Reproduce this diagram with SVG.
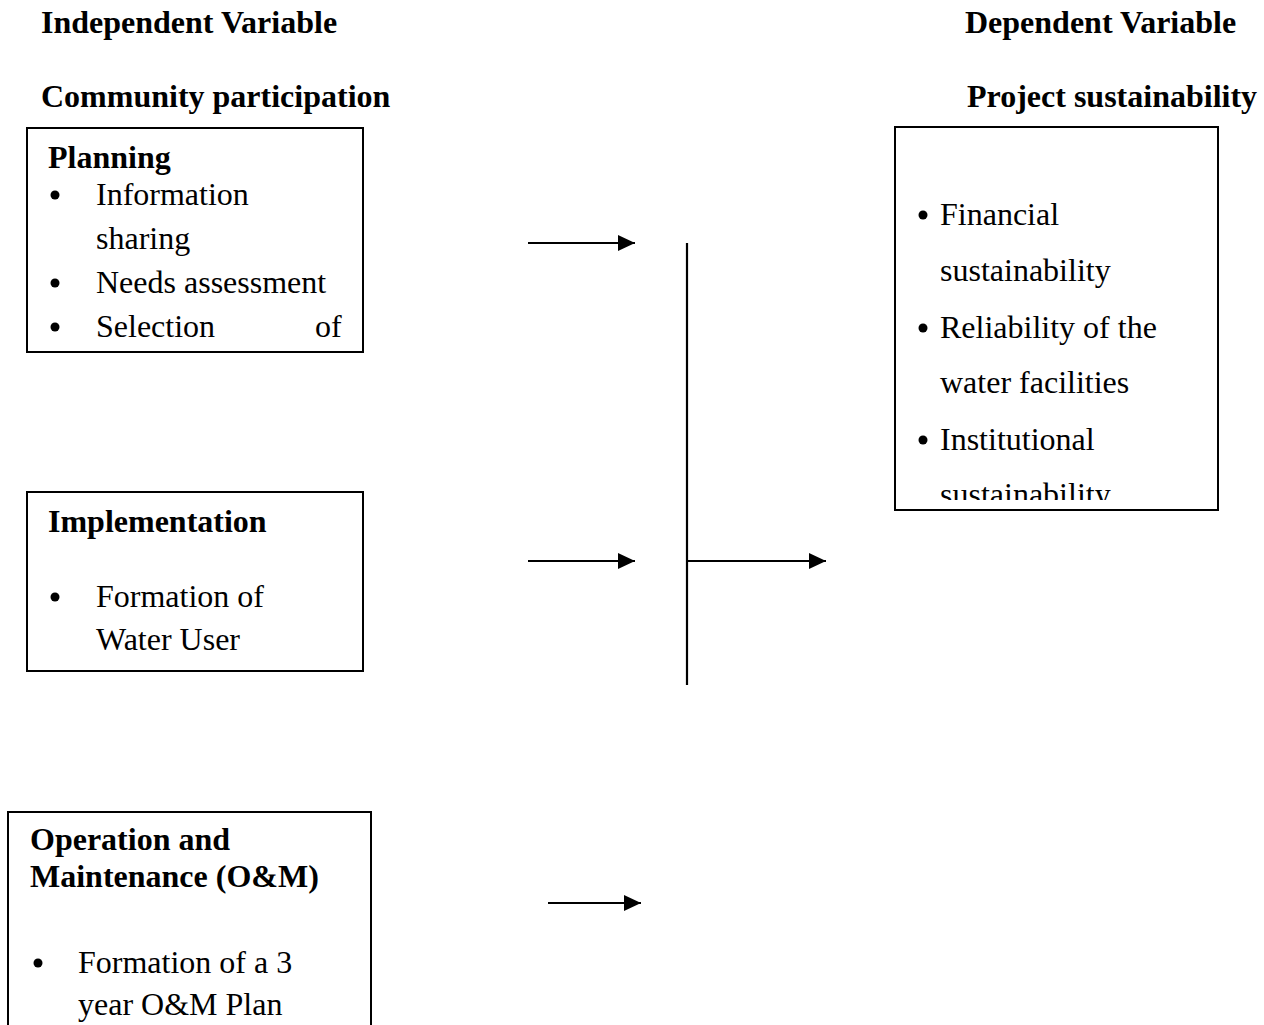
<svg xmlns="http://www.w3.org/2000/svg" width="1264" height="1025" viewBox="0 0 1264 1025">
<style>
text { font-family: "Liberation Serif", "Times New Roman", serif; font-size: 32px; fill: #000; }
.b { font-weight: bold; }
.box { fill: #fff; stroke: #000; stroke-width: 2; }
.conn { stroke: #000; stroke-width: 2.2; fill: none; }
.dot { fill: #000; }
</style>
<defs>
<marker id="arr" viewBox="0 0 17 16" refX="17" refY="8" markerWidth="17" markerHeight="16" markerUnits="userSpaceOnUse" orient="auto">
<path d="M0,0 L17,8 L0,16 z" fill="#000"/>
</marker>
<clipPath id="rclip"><rect x="895" y="127" width="323" height="373"/></clipPath>
</defs>
<rect width="1264" height="1025" fill="#fff"/>

<g id="headers">
<text class="b" x="41" y="33">Independent Variable</text>
<text class="b" x="41" y="107">Community participation</text>
<text class="b" x="965" y="33">Dependent Variable</text>
<text class="b" x="967" y="107">Project sustainability</text>
</g>

<g id="planning">
<rect class="box" x="27" y="128" width="336" height="224"/>
<text class="b" x="48" y="168">Planning</text>
<circle class="dot" cx="55" cy="195" r="4.5"/>
<text x="96" y="205">Information</text>
<text x="96" y="249">sharing</text>
<circle class="dot" cx="55" cy="283" r="4.5"/>
<text x="96" y="293">Needs assessment</text>
<circle class="dot" cx="55" cy="327" r="4.5"/>
<text x="96" y="337">Selection</text>
<text x="315" y="337">of</text>
</g>

<g id="implementation">
<rect class="box" x="27" y="492" width="336" height="179"/>
<text class="b" x="48" y="532">Implementation</text>
<circle class="dot" cx="55" cy="597" r="4.5"/>
<text x="96" y="607">Formation of</text>
<text x="96" y="650">Water User</text>
</g>

<g id="operation">
<path class="box" d="M8,1026 L8,812 L371,812 L371,1026"/>
<text class="b" x="30" y="850">Operation and</text>
<text class="b" x="30" y="887">Maintenance (O&amp;M)</text>
<circle class="dot" cx="38" cy="963" r="4.5"/>
<text x="78" y="973">Formation of a 3</text>
<text x="78" y="1015">year O&amp;M Plan</text>
</g>

<g id="sustainability">
<rect class="box" x="895" y="127" width="323" height="383"/>
<g clip-path="url(#rclip)">
<circle class="dot" cx="923" cy="215" r="4.5"/>
<text x="940" y="225">Financial</text>
<text x="940" y="281">sustainability</text>
<circle class="dot" cx="923" cy="328" r="4.5"/>
<text x="940" y="338">Reliability of the</text>
<text x="940" y="393">water facilities</text>
<circle class="dot" cx="923" cy="440" r="4.5"/>
<text x="940" y="450">Institutional</text>
<text x="940" y="505">sustainability</text>
</g>
</g>

<g id="connectors">
<line class="conn" x1="528" y1="243" x2="635" y2="243" stroke-width="3" marker-end="url(#arr)"/>
<line class="conn" x1="528" y1="561" x2="635" y2="561" marker-end="url(#arr)"/>
<line class="conn" x1="687" y1="243" x2="687" y2="685"/>
<line class="conn" x1="687" y1="561" x2="826" y2="561" marker-end="url(#arr)"/>
<line class="conn" x1="548" y1="903" x2="641" y2="903" marker-end="url(#arr)"/>
</g>
</svg>
